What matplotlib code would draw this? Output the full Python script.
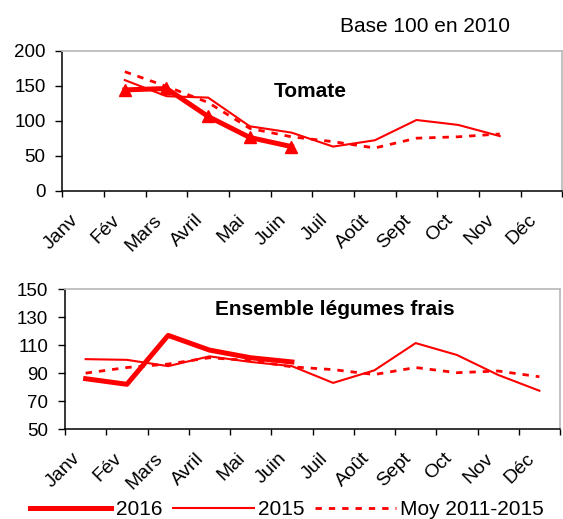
import matplotlib
matplotlib.use("Agg")
import matplotlib.pyplot as plt
import numpy as np

plt.rcParams['font.family'] = ['Liberation Sans', 'DejaVu Sans']

# Données (base 100 en 2010)
mois = ['Janv', 'Fév', 'Mars', 'Avril', 'Mai', 'Juin', 'Juil', 'Août', 'Sept', 'Oct', 'Nov', 'Déc']
nan = np.nan

tomate_2016 = [nan, 144, 146, 106, 76, 63, nan, nan, nan, nan, nan, nan]
tomate_2015 = [nan, 158, 135, 133, 92, 83, 63, 72, 101, 94, 78, nan]
tomate_moy = [nan, 170, 149, 126, 89, 77, 70, 61, 75, 77, 81, nan]

legumes_2016 = [86, 82, 117, 106.5, 101, 98, nan, nan, nan, nan, nan, nan]
legumes_2015 = [100, 99.5, 95, 102, 98, 95, 83, 92, 111.5, 103, 88.7, 77.4]
legumes_moy = [90, 94, 96.5, 101, 99, 94.5, 92.5, 89, 94, 90.3, 91.5, 87.4]

ROUGE = '#ff0000'
x = np.arange(len(mois)) + 0.5

fig = plt.figure(figsize=(5.63, 5.19), dpi=100)
ax1 = fig.add_axes([0.1107, 0.6326, 0.888, 0.2697])
ax2 = fig.add_axes([0.1155, 0.1734, 0.8792, 0.2692])


def style_axe(ax, ymin, ymax, ystep):
    ax.set_xlim(0, 12)
    ax.set_ylim(ymin, ymax)
    ax.set_yticks(np.arange(ymin, ymax + 1, ystep))
    ax.set_xticks(np.arange(0, 13))
    ax.set_xticklabels([])
    ax.set_xticks(np.arange(12) + 0.17, minor=True)
    ax.set_xticklabels(mois, minor=True, rotation=45, ha='right', va='top',
                       rotation_mode='anchor', fontsize=14)
    ax.tick_params(axis='x', which='major', length=4.5, width=1, direction='out')
    ax.tick_params(axis='x', which='minor', length=0, pad=15)
    ax.tick_params(axis='y', length=5, width=1, direction='out', pad=7, labelsize=13.5)
    for s in ('top', 'right'):
        ax.spines[s].set_color('#bdbdbd')
        ax.spines[s].set_linewidth(1.3)
    for s in ('left', 'bottom'):
        ax.spines[s].set_color('black')
        ax.spines[s].set_linewidth(1.1)


# Tomate
style_axe(ax1, 0, 200, 50)
ax1.plot(x, tomate_moy, color=ROUGE, lw=2, dashes=(2.3, 2.5), zorder=2)
ax1.plot(x, tomate_2015, color=ROUGE, lw=1.5, zorder=3)
ax1.plot(x, tomate_2016, color=ROUGE, lw=3.6, marker='^', markersize=8, zorder=4)
ax1.text(0.496, 0.671, 'Tomate', transform=ax1.transAxes, ha='center', va='baseline',
         fontsize=15, fontweight='bold')

# Ensemble légumes frais
style_axe(ax2, 50, 150, 20)
l3, = ax2.plot(x, legumes_moy, color=ROUGE, lw=2, dashes=(2.3, 2.5), zorder=2)
l2, = ax2.plot(x, legumes_2015, color=ROUGE, lw=1.5, zorder=3)
l1, = ax2.plot(x, legumes_2016, color=ROUGE, lw=3.6, zorder=4)
ax2.text(0.545, 0.816, 'Ensemble légumes frais', transform=ax2.transAxes, ha='center',
         va='baseline', fontsize=15, fontweight='bold')

fig.text(0.755, 0.939, 'Base 100 en 2010', ha='center', va='baseline', fontsize=15)

fig.legend([l1, l2, l3], ['2016', '2015', 'Moy 2011-2015'], loc='center',
           bbox_to_anchor=(0.51, 0.0187), ncol=3, frameon=False, fontsize=15,
           handlelength=3.9, handletextpad=0.2, columnspacing=0.5, borderpad=0)

fig.savefig('out.png', dpi=100)
